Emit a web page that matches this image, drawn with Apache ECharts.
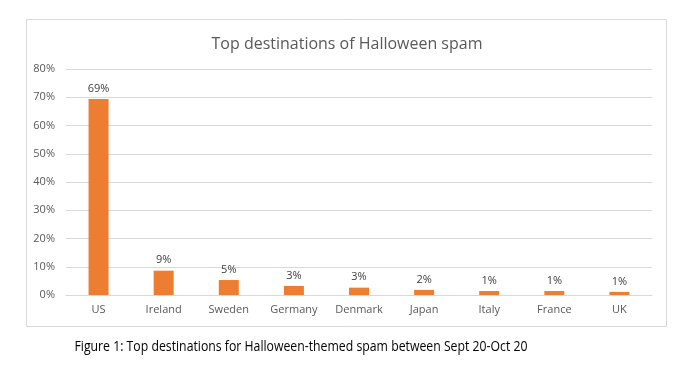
<!DOCTYPE html>
<html><head><meta charset="utf-8">
<script src="https://cdn.jsdelivr.net/npm/echarts@6/dist/echarts.min.js"></script>
<style>html,body{margin:0;padding:0;background:#fff}#c{width:695px;height:371px}</style>
</head><body><div id="c"></div>
<script>
const categories = ['US','Ireland','Sweden','Germany','Denmark','Japan','Italy','France','UK'];
const values = [69.4, 8.6, 5.3, 3.2, 2.6, 1.8, 1.4, 1.4, 1.1];
const yTicks = [0,10,20,30,40,50,60,70,80];
const chartTitle = 'Top destinations of Halloween spam';
const caption = 'Figure 1: Top destinations for Halloween-themed spam between Sept 20-Oct 20';

const font = '"Open Sans", "Liberation Sans", sans-serif';
const chart = echarts.init(document.getElementById('c'), null, {renderer:'canvas'});
chart.setOption({
  animation:false,
  backgroundColor:'#fff',
  grid:{left:66,right:43,top:69,bottom:76,containLabel:false},
  xAxis:{type:'category',data:categories,
    axisLine:{lineStyle:{color:'#d9d9d9'}},axisTick:{show:false},
    axisLabel:{fontFamily:font,fontSize:11,color:'#595959',margin:9}},
  yAxis:{type:'value',min:yTicks[0],max:yTicks[yTicks.length-1],interval:10,
    axisLine:{show:false},axisTick:{show:false},
    splitLine:{lineStyle:{color:'#d9d9d9'}},
    axisLabel:{fontFamily:font,fontSize:11,color:'#595959',margin:11,formatter:v=>v+'%'}},
  series:[{type:'bar',data:values,barWidth:20,
    itemStyle:{color:'#ed7d31'},
    label:{show:true,position:'top',distance:5,fontFamily:font,fontSize:11,color:'#404040',
      formatter:p=>Math.round(p.value)+'%'}}],
  graphic:[
    {type:'rect',shape:{x:26.5,y:19.5,width:640,height:307},
      style:{fill:null,stroke:'#d9d9d9',lineWidth:1},silent:true},
    {type:'text',x:347,y:44,scaleX:0.94,
      style:{text:chartTitle,fontFamily:font,fontSize:17,fill:'#595959',align:'center',verticalAlign:'middle'}},
    {type:'text',x:301,y:347,scaleX:0.876,
      style:{text:caption,fontFamily:font,fontSize:14,fill:'#000',align:'center',verticalAlign:'middle'}}
  ]
});
</script></body></html>
